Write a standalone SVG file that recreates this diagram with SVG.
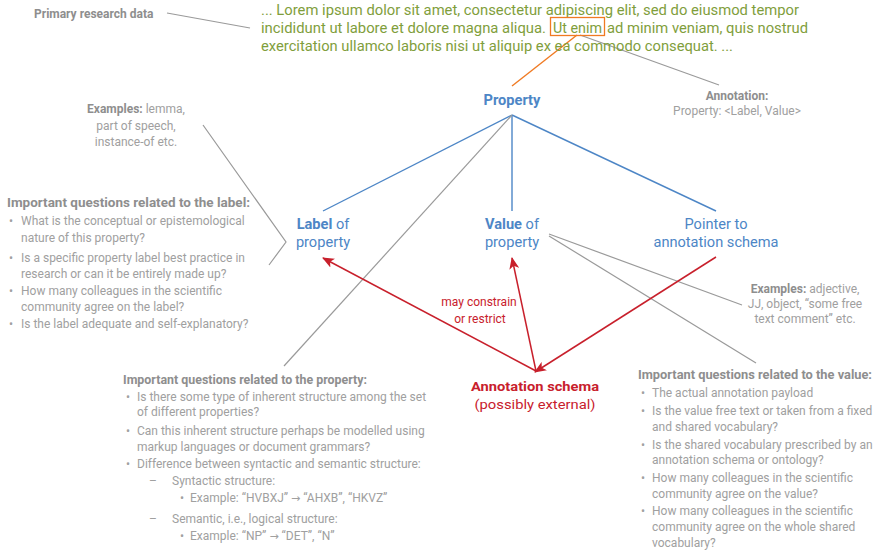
<svg xmlns="http://www.w3.org/2000/svg" width="884" height="551" viewBox="0 0 884 551">
<style>
text{font-family:Roboto,"Open Sans","Liberation Sans",sans-serif;font-size:12px;fill:#a0a0a0}
.b{font-weight:bold;fill:#8e8e8e}
.g{fill:#7f9e3c;font-size:14px}
.blue{fill:#4d86c6;font-size:14.6px}
.red{fill:#c8202c}
.c{text-anchor:middle}
.ar{font-family:"DejaVu Sans",sans-serif;font-size:11px}
.gl{stroke:#9a9a9a;stroke-width:1.2;fill:none}
.bl{stroke:#4d86c6;stroke-width:1.4;fill:none}
.rl{stroke:#c8202c;stroke-width:1.5;fill:none}
</style>
<defs>
<marker id="ah" viewBox="0 0 12 10" refX="11" refY="5" markerWidth="12" markerHeight="10" markerUnits="userSpaceOnUse" orient="auto">
<path d="M0,0 L12,5 L0,10 L3,5 Z" fill="#c8202c"/>
</marker>
</defs>

<g id="connectors">
<line class="gl" x1="167" y1="13" x2="250" y2="28"/>
<line x1="577" y1="35" x2="512" y2="86" stroke="#f07a22" stroke-width="1.4"/>
<line class="gl" x1="580" y1="35" x2="719" y2="85"/>
<line class="bl" x1="512" y1="115" x2="323" y2="211"/>
<line class="bl" x1="512" y1="115" x2="512" y2="211"/>
<line class="bl" x1="512" y1="115" x2="716" y2="211"/>
<line class="gl" x1="512" y1="115" x2="284" y2="366"/>
<polyline class="gl" points="203,125 286,242 269,265"/>
<line class="gl" x1="549" y1="234" x2="742" y2="305"/>
<line class="gl" x1="549" y1="236" x2="756" y2="363"/>
<line class="rl" x1="536" y1="371" x2="323" y2="258" marker-end="url(#ah)"/>
<line class="rl" x1="536" y1="371" x2="512" y2="258" marker-end="url(#ah)"/>
<line class="rl" x1="716" y1="257" x2="535" y2="372" marker-end="url(#ah)"/>
</g>

<g id="primary-label"><text class="b" x="34" y="18">Primary research data</text></g>

<g id="primary-data">
<text class="g" x="261" y="15" textLength="538" lengthAdjust="spacingAndGlyphs">... Lorem ipsum dolor sit amet, consectetur adipiscing elit, sed do eiusmod tempor</text>
<text class="g" x="261" y="33" textLength="285" lengthAdjust="spacingAndGlyphs">incididunt ut labore et dolore magna aliqua.</text>
<text class="g" x="553" y="33" textLength="49" lengthAdjust="spacingAndGlyphs">Ut enim</text>
<text class="g" x="607" y="33" textLength="201" lengthAdjust="spacingAndGlyphs">ad minim veniam, quis nostrud</text>
<text class="g" x="261" y="51" textLength="472" lengthAdjust="spacingAndGlyphs">exercitation ullamco laboris nisi ut aliquip ex ea commodo consequat. ...</text>
<rect x="550.5" y="17.5" width="54" height="18" fill="none" stroke="#f07a22" stroke-width="1.3"/>
</g>

<g id="property"><text class="blue c" x="512" y="105" font-weight="bold">Property</text></g>

<g id="annotation">
<text class="b c" x="737" y="100">Annotation:</text>
<text class="c" x="737" y="115">Property: &lt;Label, Value&gt;</text>
</g>

<g id="label-examples">
<text class="c" x="136" y="113"><tspan class="b">Examples:</tspan> lemma,</text>
<text class="c" x="136" y="130">part of speech,</text>
<text class="c" x="136" y="146">instance-of etc.</text>
</g>

<g id="label-node">
<text class="blue c" x="323" y="229"><tspan font-weight="bold">Label</tspan> of</text>
<text class="blue c" x="323" y="247">property</text>
</g>

<g id="value-node">
<text class="blue c" x="512" y="229"><tspan font-weight="bold">Value</tspan> of</text>
<text class="blue c" x="512" y="247">property</text>
</g>

<g id="pointer-node">
<text class="blue c" x="716" y="229">Pointer to</text>
<text class="blue c" x="716" y="247">annotation schema</text>
</g>

<g id="label-questions">
<text class="b" x="7" y="207" textLength="243" lengthAdjust="spacingAndGlyphs">Important questions related to the label:</text>
<text x="9" y="225">•</text><text x="21" y="225">What is the conceptual or epistemological</text>
<text x="21" y="242">nature of this property?</text>
<text x="9" y="262">•</text><text x="21" y="262">Is a specific property label best practice in</text>
<text x="21" y="278">research or can it be entirely made up?</text>
<text x="9" y="295">•</text><text x="21" y="295">How many colleagues in the scientific</text>
<text x="21" y="311">community agree on the label?</text>
<text x="9" y="328">•</text><text x="21" y="328">Is the label adequate and self-explanatory?</text>
</g>

<g id="constrain-label">
<text class="red c" x="479" y="306">may constrain</text>
<text class="red c" x="480" y="323">or restrict</text>
</g>

<g id="value-examples">
<text class="c" x="805" y="293"><tspan class="b">Examples:</tspan> adjective,</text>
<text class="c" x="805" y="308">JJ, object, “some free</text>
<text class="c" x="805" y="323">text comment” etc.</text>
</g>

<g id="annotation-schema">
<text class="red c" x="535" y="391" font-size="16" font-weight="bold" textLength="128" lengthAdjust="spacingAndGlyphs">Annotation schema</text>
<text class="red c" x="535" y="409" font-size="16" textLength="121" lengthAdjust="spacingAndGlyphs">(possibly external)</text>
</g>

<g id="property-questions">
<text class="b" x="123" y="384" textLength="244" lengthAdjust="spacingAndGlyphs">Important questions related to the property:</text>
<text x="126" y="401">•</text><text x="137" y="401">Is there some type of inherent structure among the set</text>
<text x="137" y="416">of different properties?</text>
<text x="126" y="435">•</text><text x="137" y="435">Can this inherent structure perhaps be modelled using</text>
<text x="137" y="451">markup languages or document grammars?</text>
<text x="126" y="468">•</text><text x="137" y="468">Difference between syntactic and semantic structure:</text>
<text x="149" y="485">–</text><text x="172" y="485">Syntactic structure:</text>
<text x="180" y="502">•</text><text x="190" y="502">Example: “HVBXJ” <tspan class="ar">→</tspan> “AHXB”, “HKVZ”</text>
<text x="149" y="523">–</text><text x="172" y="523">Semantic, i.e., logical structure:</text>
<text x="180" y="540">•</text><text x="190" y="540">Example: “NP” <tspan class="ar">→</tspan> “DET”, “N”</text>
</g>

<g id="value-questions">
<text class="b" x="638" y="379" textLength="234" lengthAdjust="spacingAndGlyphs">Important questions related to the value:</text>
<text x="641" y="397">•</text><text x="652" y="397">The actual annotation payload</text>
<text x="641" y="415">•</text><text x="652" y="415">Is the value free text or taken from a fixed</text>
<text x="652" y="431">and shared vocabulary?</text>
<text x="641" y="449">•</text><text x="652" y="449">Is the shared vocabulary prescribed by an</text>
<text x="652" y="464">annotation schema or ontology?</text>
<text x="641" y="482">•</text><text x="652" y="482">How many colleagues in the scientific</text>
<text x="652" y="498">community agree on the value?</text>
<text x="641" y="515">•</text><text x="652" y="515">How many colleagues in the scientific</text>
<text x="652" y="531">community agree on the whole shared</text>
<text x="652" y="547">vocabulary?</text>
</g>
</svg>
